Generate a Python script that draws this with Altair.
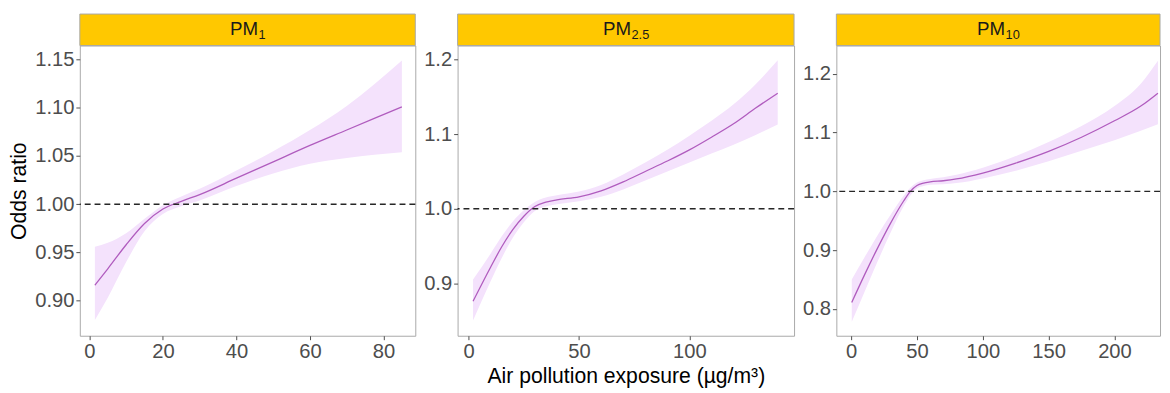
import altair as alt
import pandas as pd

# ---------------- data ----------------
pm1_x = [1.5, 5, 10, 15, 20, 25, 30, 40, 50, 60, 70, 85]
pm1_fit = [0.916, 0.933, 0.958, 0.980, 0.995, 1.003, 1.010, 1.027, 1.044, 1.061, 1.077, 1.101]
pm1_hi = [0.956, 0.960, 0.970, 0.985, 0.999, 1.008, 1.016, 1.035, 1.055, 1.077, 1.102, 1.149]
pm1_lo = [0.880, 0.903, 0.940, 0.972, 0.990, 0.998, 1.004, 1.019, 1.032, 1.042, 1.048, 1.054]

pm25_x = [2, 10, 15, 20, 25, 30, 35, 40, 50, 60, 70, 80, 90, 100, 110, 120, 130, 140]
pm25_fit = [0.876, 0.922, 0.949, 0.972, 0.990, 1.003, 1.009, 1.012, 1.016, 1.024, 1.036,
            1.050, 1.064, 1.079, 1.096, 1.114, 1.135, 1.155]
pm25_hi = [0.905, 0.940, 0.963, 0.983, 0.998, 1.009, 1.015, 1.018, 1.023, 1.032, 1.046,
           1.062, 1.079, 1.098, 1.118, 1.140, 1.167, 1.199]
pm25_lo = [0.850, 0.903, 0.934, 0.961, 0.982, 0.997, 1.003, 1.006, 1.010, 1.016, 1.026,
           1.038, 1.050, 1.062, 1.074, 1.086, 1.099, 1.113]

pm10_x = [0.5, 10, 20, 30, 40, 45, 50, 55, 60, 70, 80, 100, 125, 150, 175, 200, 220, 233]
pm10_fit = [0.811, 0.857, 0.903, 0.946, 0.984, 1.000, 1.010, 1.014, 1.016, 1.018, 1.021,
            1.031, 1.048, 1.068, 1.092, 1.120, 1.145, 1.167]
pm10_hi = [0.850, 0.887, 0.925, 0.960, 0.993, 1.006, 1.015, 1.019, 1.021, 1.024, 1.028,
           1.040, 1.060, 1.084, 1.111, 1.145, 1.183, 1.222]
pm10_lo = [0.778, 0.828, 0.880, 0.930, 0.975, 0.993, 1.005, 1.009, 1.011, 1.012, 1.014,
           1.022, 1.035, 1.051, 1.069, 1.087, 1.103, 1.114]

panel_names = ["PM", "PM", "PM"]
panel_subs = ["1", "2.5", "10"]
x_ticks = [[0, 20, 40, 60, 80], [0, 50, 100], [0, 50, 100, 150, 200]]
y_ticks = [[0.90, 0.95, 1.00, 1.05, 1.10, 1.15], [0.9, 1.0, 1.1, 1.2], [0.8, 0.9, 1.0, 1.1, 1.2]]
y_formats = [".2f", ".1f", ".1f"]
x_domains = [[-2.6, 88.65], [-5.0, 147.4], [-11.2, 234.6]]
y_domains = [[0.8636, 1.1646], [0.8297, 1.2189], [0.7543, 1.248]]
ref_value = [1.0]
y_title = "Odds ratio"
x_title = "Air pollution exposure (µg/m³)"

# ---------------- styling ----------------
FONT = "Liberation Sans"
LINE = "#B05CBE"
BAND = "#F4E2FC"
STRIP = "#FFC800"
BORDER = "#A8A8A8"
HEIGHT = 295
WIDTHS = [341, 342, 329]
STRIP_H = 32


def panel(i, x, fit, lo, hi, show_ytitle, show_xtitle):
    w = WIDTHS[i]
    df = pd.DataFrame({"x": x, "fit": fit, "lo": lo, "hi": hi})
    xs = alt.Scale(domain=x_domains[i], nice=False, zero=False)
    ys = alt.Scale(domain=y_domains[i], nice=False, zero=False)
    xax = alt.Axis(values=x_ticks[i], format="d", title=x_title if show_xtitle else None)
    yax = alt.Axis(values=y_ticks[i], format=y_formats[i], title=y_title if show_ytitle else None)

    band = alt.Chart(df).mark_area(color=BAND, opacity=1, interpolate="monotone").encode(
        x=alt.X("x:Q", scale=xs, axis=xax),
        y=alt.Y("lo:Q", scale=ys, axis=yax),
        y2="hi:Q",
    )
    line = alt.Chart(df).mark_line(color=LINE, strokeWidth=1.3, interpolate="monotone").encode(
        x="x:Q", y="fit:Q"
    )
    ref = alt.Chart(pd.DataFrame({"r": ref_value})).mark_rule(
        color="#262626", strokeDash=[6, 4], strokeWidth=1.4
    ).encode(y="r:Q")

    one = pd.DataFrame({"k": [0]})
    strip = alt.Chart(one).mark_rect(fill=STRIP, stroke=BORDER, strokeWidth=1).encode(
        x=alt.value(0), x2=alt.value(w), y=alt.value(-STRIP_H), y2=alt.value(0)
    )
    pm_w = 1.5 * 19
    sub_w = {"1": 7.2, "2.5": 18.0, "10": 14.4}[panel_subs[i]]
    anchor = w / 2 + (pm_w - sub_w) / 2
    t_main = alt.Chart(one).mark_text(
        text=panel_names[i], font=FONT, fontSize=19, align="right", baseline="alphabetic", color="#1a1a1a"
    ).encode(x=alt.value(anchor), y=alt.value(-10.5))
    t_sub = alt.Chart(one).mark_text(
        text=panel_subs[i], font=FONT, fontSize=13, align="left", baseline="alphabetic", color="#1a1a1a"
    ).encode(x=alt.value(anchor + 0.5), y=alt.value(-6.5))

    return alt.layer(band, line, ref, strip, t_main, t_sub).properties(width=w, height=HEIGHT)


p1 = panel(0, pm1_x, pm1_fit, pm1_lo, pm1_hi, True, False)
p2 = panel(1, pm25_x, pm25_fit, pm25_lo, pm25_hi, False, True)
p3 = panel(2, pm10_x, pm10_fit, pm10_lo, pm10_hi, False, False)

chart = alt.hconcat(p1, p2, p3, spacing=6).properties(
    padding={"left": 0, "top": 2, "right": 0, "bottom": 0}
).configure_view(
    stroke=BORDER, strokeWidth=1
).configure_axis(
    grid=False,
    domain=False,
    labelFont=FONT,
    labelFontSize=20.5,
    labelColor="#4D4D4D",
    tickColor="#4D4D4D",
    tickSize=4,
    labelPadding=2,
    titleFont=FONT,
    titleFontSize=21.5,
    titleFontWeight="normal",
    titleColor="#000000",
    titlePadding=4,
)

chart.save("out.html", embed_options={"renderer": "svg", "actions": False})
